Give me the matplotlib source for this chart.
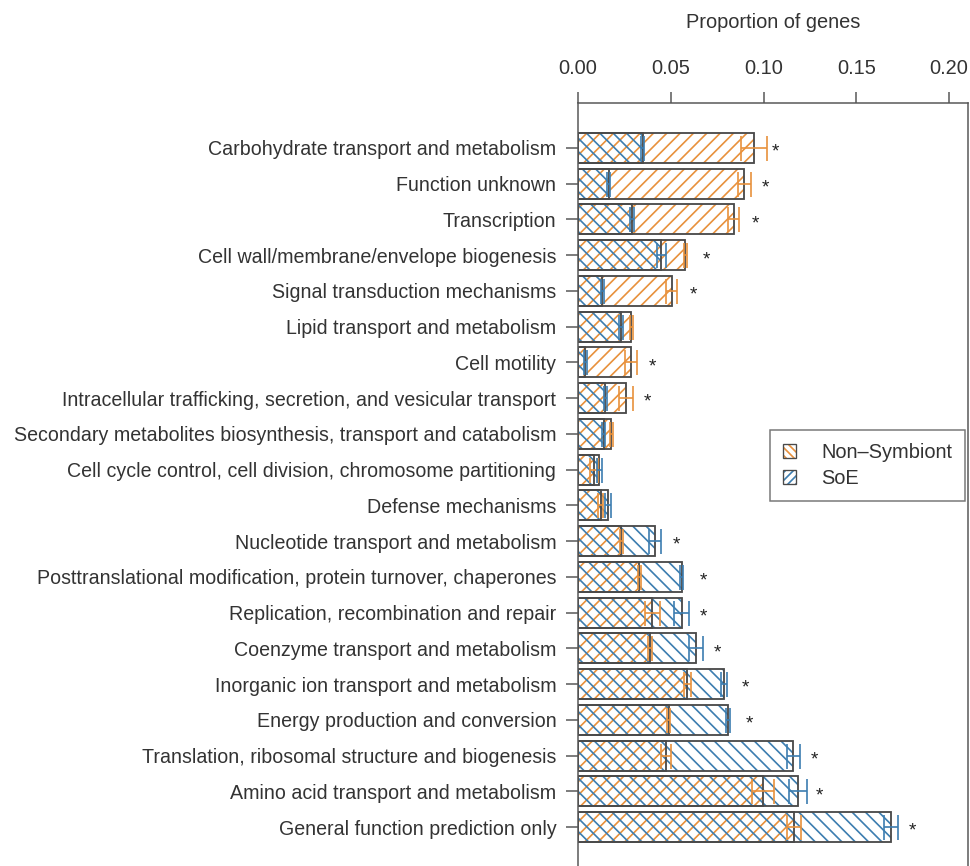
import matplotlib
matplotlib.use("Agg")
import matplotlib.pyplot as plt
from matplotlib.patches import Patch
from matplotlib.legend_handler import HandlerTuple
import numpy as np

plt.rcParams['font.family'] = ['Liberation Sans', 'DejaVu Sans']
plt.rcParams['hatch.linewidth'] = 1.0

categories = [
    "Carbohydrate transport and metabolism",
    "Function unknown",
    "Transcription",
    "Cell wall/membrane/envelope biogenesis",
    "Signal transduction mechanisms",
    "Lipid transport and metabolism",
    "Cell motility",
    "Intracellular trafficking, secretion, and vesicular transport",
    "Secondary metabolites biosynthesis, transport and catabolism",
    "Cell cycle control, cell division, chromosome partitioning",
    "Defense mechanisms",
    "Nucleotide transport and metabolism",
    "Posttranslational modification, protein turnover, chaperones",
    "Replication, recombination and repair",
    "Coenzyme transport and metabolism",
    "Inorganic ion transport and metabolism",
    "Energy production and conversion",
    "Translation, ribosomal structure and biogenesis",
    "Amino acid transport and metabolism",
    "General function prediction only",
]

# mean proportion of genes per COG category
non_symbiont = [0.0950, 0.0895, 0.0840, 0.0577, 0.0505, 0.0286, 0.0286, 0.0260,
                0.0180, 0.0087, 0.0122, 0.0232, 0.0330, 0.0400, 0.0388, 0.0590,
                0.0490, 0.0474, 0.0998, 0.1164]
soe = [0.0350, 0.0167, 0.0290, 0.0450, 0.0130, 0.0230, 0.0038, 0.0146,
       0.0140, 0.0115, 0.0162, 0.0415, 0.0560, 0.0560, 0.0636, 0.0787,
       0.0809, 0.1160, 0.1186, 0.1687]

# standard errors
non_symbiont_err = [0.0070, 0.0035, 0.0030, 0.0008, 0.0030, 0.0008, 0.0030, 0.0038,
                    0.0008, 0.0020, 0.0015, 0.0008, 0.0008, 0.0040, 0.0010, 0.0020,
                    0.0008, 0.0027, 0.0060, 0.0038]
soe_err = [0.0008, 0.0008, 0.0010, 0.0025, 0.0008, 0.0010, 0.0008, 0.0008,
           0.0008, 0.0015, 0.0015, 0.0030, 0.0008, 0.0040, 0.0038, 0.0016,
           0.0010, 0.0036, 0.0050, 0.0038]

significant = [True, True, True, True, True, False, True, True,
               False, False, False, True, True, True, True, True,
               True, True, True, True]

xticks = [0.00, 0.05, 0.10, 0.15, 0.20]

ORANGE = "#E8913C"
BLUE = "#3C7DB0"
OUTLINE = "#4a4a4a"
TEXT = "#333333"
AXIS = "#555555"

fig = plt.figure(figsize=(970 / 120, 866 / 120), dpi=120)
ax = fig.add_axes([578 / 970, 0.0, 390 / 970, 1 - 103 / 866])

y = np.arange(len(categories))
h = 0.84

# hatch layers (hatch colour taken from the edge colour)
ax.barh(y, non_symbiont, height=h, facecolor="none", edgecolor=ORANGE,
        hatch="///", linewidth=0, zorder=1)
ax.barh(y, soe, height=h, facecolor="none", edgecolor=BLUE,
        hatch="\\\\\\", linewidth=0, zorder=1)
# outlines
ax.barh(y, non_symbiont, height=h, facecolor="none", edgecolor=OUTLINE,
        linewidth=1.1, zorder=2)
ax.barh(y, soe, height=h, facecolor="none", edgecolor=OUTLINE,
        linewidth=1.1, zorder=2)

ax.errorbar(non_symbiont, y, xerr=non_symbiont_err, fmt="none", ecolor=ORANGE,
            elinewidth=1.0, capsize=7.5, capthick=1.0, zorder=3)
ax.errorbar(soe, y, xerr=soe_err, fmt="none", ecolor=BLUE,
            elinewidth=1.0, capsize=7.5, capthick=1.0, zorder=3)

for yi, a, b, sig in zip(y, non_symbiont, soe, significant):
    if sig:
        ax.text(max(a, b) + 0.0115, yi + 0.12, "*", ha="center", va="center",
                fontsize=11.5, color="#222222")

ax.set_xlim(0, 390 / 1855)
ax.set_ylim(19 + 39 / 35.74, -45 / 35.74)

ax.xaxis.tick_top()
ax.xaxis.set_label_position("top")
ax.set_xticks(xticks)
ax.set_xticklabels([f"{t:.2f}" for t in xticks])
ax.set_xlabel("Proportion of genes", fontsize=12, color=TEXT, labelpad=19)
ax.set_yticks(y)
ax.set_yticklabels(categories)

ax.tick_params(axis="x", direction="out", length=6.6, width=0.9, color=AXIS,
               labelsize=12, labelcolor=TEXT, pad=8.3)
ax.tick_params(axis="y", direction="out", length=7, width=0.9, color=AXIS,
               labelsize=11.8, labelcolor=TEXT, pad=6)

for side in ["top", "left", "right"]:
    ax.spines[side].set_color(AXIS)
    ax.spines[side].set_linewidth(0.9)
ax.spines["bottom"].set_visible(False)

handles = [
    (Patch(facecolor="none", edgecolor=ORANGE, hatch="\\\\\\\\\\", linewidth=0),
     Patch(facecolor="none", edgecolor=OUTLINE, linewidth=0.8)),
    (Patch(facecolor="none", edgecolor=BLUE, hatch="/////", linewidth=0),
     Patch(facecolor="none", edgecolor=OUTLINE, linewidth=0.8)),
]
leg = ax.legend(handles, ["Non\u2013Symbiont", "SoE"],
                handler_map={tuple: HandlerTuple(ndivide=1)},
                loc="upper left", bbox_to_anchor=((770 - 578) / 390, (866 - 430) / 763),
                frameon=True, fancybox=False, edgecolor=AXIS, fontsize=12,
                handlelength=0.65, handleheight=0.65, handletextpad=1.25,
                borderpad=0.65, labelspacing=0.35, borderaxespad=0)
leg.get_frame().set_linewidth(0.9)
for t in leg.get_texts():
    t.set_color(TEXT)

fig.savefig("out.png", dpi=120)
